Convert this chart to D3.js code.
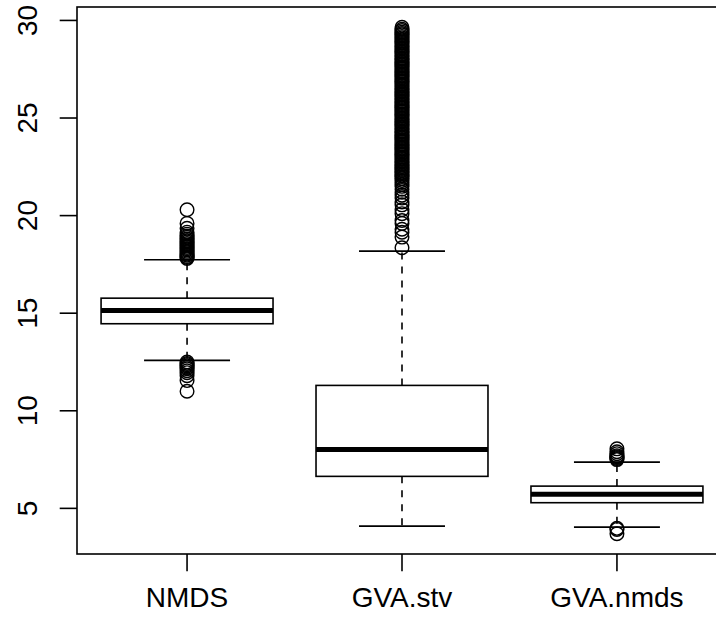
<!DOCTYPE html>
<html>
<head>
<meta charset="utf-8">
<script src="https://d3js.org/d3.v7.min.js"></script>
<style>
  body { margin: 0; background: #fff; }
  text { font-family: "Liberation Sans", Arial, sans-serif; fill: #000; }
</style>
</head>
<body>
<div class="chart"></div>
<script>
var svgWidth = 716;
var svgHeight = 622;

// plot region (right edge runs past the picture, as in the reference)
var margin = { top: 7, left: 77 };
var plotRight = 727;
var plotBottom = 554;

// box statistics
var categories = ["NMDS", "GVA.stv", "GVA.nmds"];
var whiskerLow = [12.58, 4.09, 4.04];
var q1 = [14.46, 6.64, 5.29];
var median = [15.14, 8.02, 5.72];
var q3 = [15.77, 11.30, 6.14];
var whiskerHigh = [17.74, 18.18, 7.37];

var outNMDS = [11.0, 11.55, 11.8, 11.95, 12.05, 12.15, 12.22, 12.3, 12.36, 12.42, 12.5,
  17.8, 17.85, 17.9, 17.97, 18.03, 18.1, 18.17, 18.24, 18.3, 18.37, 18.44, 18.5,
  18.57, 18.65, 18.72, 18.8, 18.88, 18.95, 19.05, 19.15, 19.35, 19.6, 20.3];

var outGVAstv = [18.35, 18.9, 19.15, 19.3, 19.6, 19.75, 20.1, 20.3, 20.55, 20.7, 20.9,
  21.05, 21.2, 21.35, 21.5, 21.6, 21.7, 21.8, 21.9,
  22.0, 22.07, 22.15, 22.22, 22.3, 22.36, 22.44, 22.51, 22.58, 22.66, 22.73, 22.8,
  22.88, 22.95, 23.02, 23.1, 23.17, 23.24, 23.32, 23.39, 23.46, 23.54, 23.61, 23.68,
  23.76, 23.83, 23.9, 23.98, 24.05, 24.12, 24.2, 24.27, 24.34, 24.42, 24.49, 24.56,
  24.64, 24.71, 24.78, 24.86, 24.93, 25.0, 25.08, 25.15, 25.22, 25.3, 25.37, 25.44,
  25.52, 25.59, 25.66, 25.74, 25.81, 25.88, 25.96, 26.03, 26.1, 26.18, 26.25, 26.32,
  26.4, 26.47, 26.54, 26.62, 26.69, 26.76, 26.84, 26.91, 26.98, 27.06, 27.13, 27.2,
  27.28, 27.35, 27.42, 27.5, 27.57, 27.64, 27.72, 27.79, 27.86, 27.94, 28.01, 28.08,
  28.16, 28.23, 28.3, 28.38, 28.45, 28.52, 28.6, 28.67, 28.74, 28.82, 28.89, 28.96,
  29.04, 29.11, 29.18, 29.26, 29.33, 29.4, 29.48, 29.55, 29.65];

var outGVAnmds = [3.7, 3.92, 3.98, 7.5, 7.55, 7.6, 7.65, 7.7, 7.8, 7.9, 8.05];

var outliers = [outNMDS, outGVAstv, outGVAnmds];
var yTicks = [5, 10, 15, 20, 25, 30];

var svg = d3
  .select(".chart")
  .append("svg")
  .attr("width", svgWidth)
  .attr("height", svgHeight);

// y range padded by 4% like R does
var allVals = d3.merge([whiskerLow, whiskerHigh].concat(outliers));
var yMin = d3.min(allVals);
var yMax = d3.max(allVals);
var pad = (yMax - yMin) * 0.04;

var yScale = d3.scaleLinear()
  .domain([yMin - pad, yMax + pad])
  .range([plotBottom, margin.top]);

var xScale = d3.scaleLinear()
  .domain([0.488, 3.512])
  .range([margin.left, plotRight]);

var lw = 1.6;
var boxHalf = 0.4;
var capHalf = 0.2;

var boxes = svg.append("g").selectAll("g")
  .data(categories)
  .enter()
  .append("g");

// dashed whiskers
boxes.append("line")
  .attr("x1", (d, i) => xScale(i + 1))
  .attr("x2", (d, i) => xScale(i + 1))
  .attr("y1", (d, i) => yScale(q3[i]))
  .attr("y2", (d, i) => yScale(whiskerHigh[i]))
  .attr("stroke", "#000")
  .attr("stroke-width", lw)
  .attr("stroke-dasharray", "7,7");

boxes.append("line")
  .attr("x1", (d, i) => xScale(i + 1))
  .attr("x2", (d, i) => xScale(i + 1))
  .attr("y1", (d, i) => yScale(q1[i]))
  .attr("y2", (d, i) => yScale(whiskerLow[i]))
  .attr("stroke", "#000")
  .attr("stroke-width", lw)
  .attr("stroke-dasharray", "7,7");

// staples
[whiskerHigh, whiskerLow].forEach(function (arr) {
  boxes.append("line")
    .attr("x1", (d, i) => xScale(i + 1 - capHalf))
    .attr("x2", (d, i) => xScale(i + 1 + capHalf))
    .attr("y1", (d, i) => yScale(arr[i]))
    .attr("y2", (d, i) => yScale(arr[i]))
    .attr("stroke", "#000")
    .attr("stroke-width", lw);
});

// boxes
boxes.append("rect")
  .attr("x", (d, i) => xScale(i + 1 - boxHalf))
  .attr("width", (d, i) => xScale(i + 1 + boxHalf) - xScale(i + 1 - boxHalf))
  .attr("y", (d, i) => yScale(q3[i]))
  .attr("height", (d, i) => yScale(q1[i]) - yScale(q3[i]))
  .attr("fill", "none")
  .attr("stroke", "#000")
  .attr("stroke-width", lw);

// medians
boxes.append("line")
  .attr("x1", (d, i) => xScale(i + 1 - boxHalf))
  .attr("x2", (d, i) => xScale(i + 1 + boxHalf))
  .attr("y1", (d, i) => yScale(median[i]))
  .attr("y2", (d, i) => yScale(median[i]))
  .attr("stroke", "#000")
  .attr("stroke-width", 5);

// outlier circles
boxes.each(function (d, i) {
  d3.select(this).selectAll("circle")
    .data(outliers[i])
    .enter()
    .append("circle")
    .attr("cx", xScale(i + 1))
    .attr("cy", v => yScale(v))
    .attr("r", 6.8)
    .attr("fill", "none")
    .attr("stroke", "#000")
    .attr("stroke-width", 1.4);
});

// frame
svg.append("rect")
  .attr("x", margin.left)
  .attr("y", margin.top)
  .attr("width", plotRight - margin.left)
  .attr("height", plotBottom - margin.top)
  .attr("fill", "none")
  .attr("stroke", "#000")
  .attr("stroke-width", lw);

// left axis
var leftAxis = svg.append("g");
leftAxis.selectAll("line")
  .data(yTicks)
  .enter()
  .append("line")
  .attr("x1", margin.left - 17.3)
  .attr("x2", margin.left)
  .attr("y1", d => yScale(d))
  .attr("y2", d => yScale(d))
  .attr("stroke", "#000")
  .attr("stroke-width", lw);

leftAxis.selectAll("text")
  .data(yTicks)
  .enter()
  .append("text")
  .attr("transform", d => `translate(37, ${yScale(d)}) rotate(-90)`)
  .attr("text-anchor", "middle")
  .attr("font-size", "28px")
  .text(d => d);

// bottom axis
var bottomAxis = svg.append("g");
bottomAxis.selectAll("line")
  .data(categories)
  .enter()
  .append("line")
  .attr("x1", (d, i) => xScale(i + 1))
  .attr("x2", (d, i) => xScale(i + 1))
  .attr("y1", plotBottom)
  .attr("y2", plotBottom + 17.3)
  .attr("stroke", "#000")
  .attr("stroke-width", lw);

bottomAxis.selectAll("text")
  .data(categories)
  .enter()
  .append("text")
  .attr("x", (d, i) => xScale(i + 1))
  .attr("y", 607)
  .attr("text-anchor", "middle")
  .attr("font-size", "28px")
  .text(d => d);
</script>
</body>
</html>
